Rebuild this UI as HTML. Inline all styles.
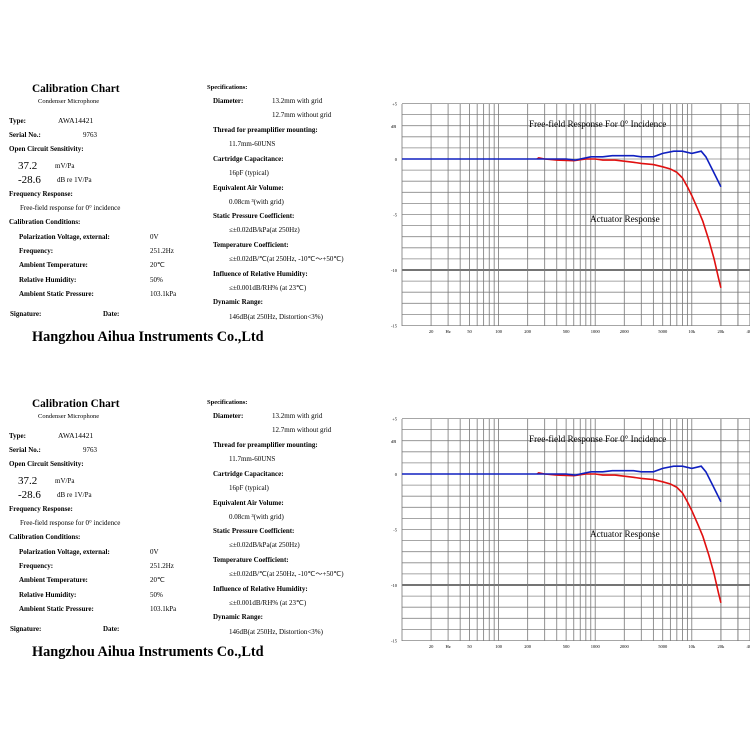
<!DOCTYPE html><html><head><style>body{margin:0;background:#fff}svg{display:block}</style></head><body>
<svg id="s" width="750" height="750" xmlns="http://www.w3.org/2000/svg" font-family="Liberation Serif, serif"></svg>
<script>
const s=document.getElementById('s');let h='';
const X=f=>402+96.6*Math.log10(f/10);
function panel(o){
const T=(x,y,t,sz,b,anchor)=>{h+=`<text x="${x}" y="${y+o}" font-size="${sz}" ${b?'font-weight="bold"':''} ${anchor?'text-anchor="'+anchor+'"':''}>${t}</text>`;};
T(32,92,'Calibration Chart',11.3,1);T(38,103,'Condenser Microphone',6.5);
T(9,123,'Type:',7,1);T(58,123,'AWA14421',7.5);
T(9,137,'Serial No.:',7,1);T(83,137,'9763',7);
T(9,151,'Open Circuit Sensitivity:',7,1);
T(18,169,'37.2',11);T(55,168,'mV/Pa',7);
T(18,183,'-28.6',11);T(57,182,'dB re 1V/Pa',7);
T(9,196,'Frequency Response:',7,1);T(20,210,'Free-field response for 0° incidence',7);
T(9,224,'Calibration Conditions:',7,1);
[['Polarization Voltage, external:','0V',239],['Frequency:','251.2Hz',253],['Ambient Temperature:','20℃',267],['Relative Humidity:','50%',282],['Ambient Static Pressure:','103.1kPa',296]].forEach(a=>{T(19,a[2],a[0],7,1);T(150,a[2],a[1],7);});
T(10,316,'Signature:',7,1);T(103,316,'Date:',7,1);
T(32,341,'Hangzhou Aihua Instruments Co.,Ltd',14.3,1);
T(207,89,'Specifications:',6.5,1);
T(213,103,'Diameter:',7,1);T(272,103,'13.2mm with grid',7);T(272,117,'12.7mm without grid',7);
T(213,132,'Thread for preamplifier mounting:',7,1);T(229,146,'11.7mm-60UNS',7);
T(213,161,'Cartridge Capacitance:',7,1);T(229,175,'16pF (typical)',7);
T(213,190,'Equivalent Air Volume:',7,1);T(229,204,'0.08cm  ³(with grid)',7);
T(213,218,'Static Pressure Coefficient:',7,1);T(229,232,'≤±0.02dB/kPa(at 250Hz)',7);
T(213,247,'Temperature Coefficient:',7,1);T(229,261,'≤±0.02dB/℃(at 250Hz, -10℃～+50℃)',7);
T(213,276,'Influence of Relative Humidity:',7,1);T(229,290,'≤±0.001dB/RH% (at 23℃)',7);
T(213,304,'Dynamic Range:',7,1);T(229,319,'146dB(at 250Hz, Distortion<3%)',7);
const top=104+o,bot=326+o,L=402,R=750,Y=d=>159+o-d*11.1;
for(let d=5;d>=-15;d--){h+=`<line x1="${L}" x2="${R}" y1="${Y(d)}" y2="${Y(d)}" stroke="${d==-10?'#222':'#888'}" stroke-width="${d==-10?1.2:0.8}"/>`;}
for(let dec=10;dec<=10000;dec*=10)for(let m=1;m<=9;m++){const f=dec*m;const x=X(f);h+=`<line x1="${x}" x2="${x}" y1="${top}" y2="${bot}" stroke="#777" stroke-width="0.8"/>`;}
[20000,30000,40000].forEach(f=>h+=`<line x1="${X(f)}" x2="${X(f)}" y1="${top}" y2="${bot}" stroke="#777" stroke-width="0.8"/>`);
[['+5',5],['0',0],['-5',-5],['-10',-10],['-15',-15]].forEach(a=>T(397,Y(a[1])-o+2,a[0],4.5,0,'end'));
T(391,128,'dB',4.5);
[[20,'20'],[30,'Hz'],[50,'50'],[100,'100'],[200,'200'],[500,'500'],[1000,'1000'],[2000,'2000'],[5000,'5000'],[10000,'10k'],[20000,'20k'],[40000,'40k']].forEach(a=>T(X(a[0]),333,a[1],4.5,0,'middle'));
T(529,127,'Free-field Response For 0°  Incidence',9.2);
T(590,222,'Actuator Response',9.2);
const P=(pts,c)=>{let d='';pts.forEach((p,i)=>d+=(i?'L':'M')+X(p[0]).toFixed(1)+','+Y(p[1]).toFixed(1));h+=`<path d="${d}" fill="none" stroke="${c}" stroke-width="1.6"/>`;};
P([[250,0],[260,0.1],[300,0],[400,-0.1],[600,-0.15],[800,0],[1000,0],[1200,-0.1],[1600,-0.1],[2000,-0.2],[2500,-0.3],[3000,-0.4],[4000,-0.5],[5000,-0.7],[6000,-0.9],[7000,-1.2],[8000,-1.7],[9000,-2.5],[10000,-3.3],[11500,-4.5],[13000,-5.6],[15000,-7.3],[17000,-9],[19000,-10.8],[20000,-11.6]],'#e01010');
P([[10,0],[500,0],[620,-0.1],[700,0],[900,0.2],[1200,0.2],[1500,0.3],[2500,0.3],[3000,0.2],[4000,0.2],[5000,0.5],[6500,0.7],[8000,0.7],[10000,0.5],[12500,0.7],[14000,0.2],[16000,-0.8],[18000,-1.7],[20000,-2.5]],'#1020c0');
}
panel(0);panel(315);
s.innerHTML=h;
</script></body></html>
